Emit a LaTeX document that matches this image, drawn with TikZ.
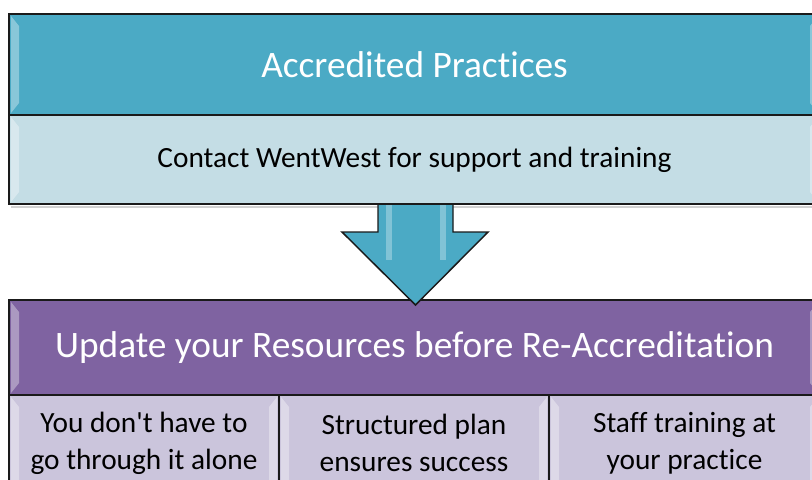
\documentclass[tikz,border=0pt]{standalone}
\usepackage{fontspec}
\setmainfont{Carlito}[Ligatures={TeXOff,NoCommon}]
\definecolor{tealH}{HTML}{4BAAC5}
\definecolor{tealL}{HTML}{C4DDE5}
\definecolor{purpH}{HTML}{7F63A1}
\definecolor{purpL}{HTML}{CBC5DC}
\definecolor{edge}{HTML}{1A1A1A}
\newcommand{\bevelLR}[4]{%
  \fill[white,opacity=0.35] (#1+2,#2+2) -- (#1+10,#2+12) -- (#1+10,#4-12) -- (#1+2,#4-2) -- cycle;
  \fill[white,opacity=0.35] (#3-2,#2+2) -- (#3-10,#2+12) -- (#3-10,#4-12) -- (#3-2,#4-2) -- cycle;
}
\begin{document}
\begin{tikzpicture}[x=0.75pt,y=-0.75pt,
  box/.style={draw=edge,line width=1.1pt,inner sep=0pt,anchor=center},
  title/.style={text=white,font=\fontsize{28}{32}\selectfont},
  sub/.style={text=black,font=\fontsize{22}{27.75}\selectfont,align=center},
  arrowshape/.style={fill=tealH,draw=edge,line width=1.1pt,line join=miter}]
\useasboundingbox (0,0) rectangle (812,479);
\clip (0,0) rectangle (812,479);
\fill[white] (0,0) rectangle (812,479);
% shadows
\fill[black!18] (11,206) rectangle (822,208);
% top block
\node[box,fill=tealH,minimum width=608.25pt,minimum height=75.75pt] (th) at (414.5,64.5) {};
\node[box,fill=tealL,minimum width=608.25pt,minimum height=66.75pt] (ts) at (414.5,159.5) {};
\bevelLR{9}{14}{820}{115}
\bevelLR{9}{115}{820}{204}
\node[title] (tht) at (th.center) {Accredited Practices};
\node[sub] (tst) at (ts.center) {Contact WentWest for support and training};
% bottom block
\node[box,fill=purpH,minimum width=608.25pt,minimum height=71.25pt] (bh) at (414.5,347.5) {};
\node[box,fill=purpL,minimum width=202.5pt,minimum height=72pt] (b1) at (144,443) {};
\node[box,fill=purpL,minimum width=202.5pt,minimum height=72pt] (b2) at (414,443) {};
\node[box,fill=purpL,minimum width=203.25pt,minimum height=72pt] (b3) at (684.5,443) {};
\bevelLR{9}{300}{820}{395}
\bevelLR{9}{395}{279}{500}
\bevelLR{279}{395}{549}{500}
\bevelLR{549}{395}{820}{500}
\node[title] (bht) at (bh.center) {Update your Resources before Re-Accreditation};
\node[sub] (b1t) at (144,443) {You don't have to\\go through it alone};
\node[sub] (b2t) at (414,443) {Structured plan\\ensures success};
\node[sub] (b3t) at (684.5,443) {Staff training at\\your practice};
% arrow
\coordinate (atop) at (415.5,204);
\coordinate (atip) at (415.5,305);
\fill[tealH] (378,205) -- (378,232) -- (342,232) -- (atip) -- (488,232) -- (453,232) -- (453,205) -- cycle;
\fill[white,opacity=0.3] (386,205) rectangle (392,260);
\fill[white,opacity=0.3] (440,205) rectangle (446,260);
\draw[arrowshape,fill=none] (378,205) -- (378,232) -- (342,232) -- (atip) -- (488,232) -- (453,232) -- (453,205);
\end{tikzpicture}
\end{document}
